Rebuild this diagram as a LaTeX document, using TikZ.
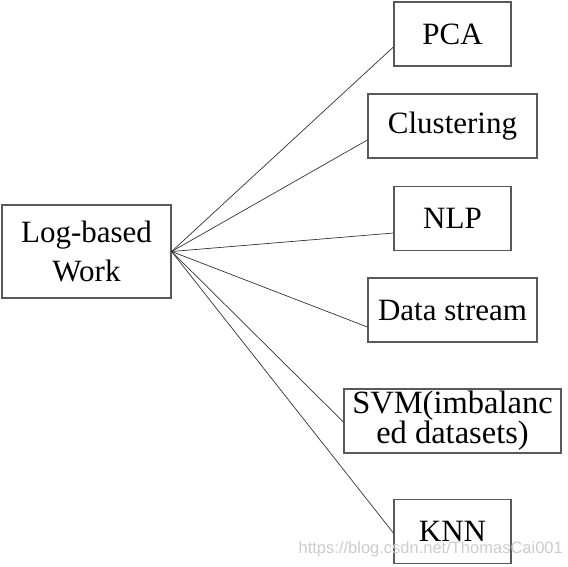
\documentclass[tikz,border=0pt]{standalone}
\usepackage{fontspec}
\setmainfont{Liberation Serif}
\newfontfamily\marksans{Liberation Sans}
\begin{document}
\begin{tikzpicture}[x=1pt,y=-1pt,
  box/.style={draw=black!65,line width=1.2pt,inner sep=0pt,minimum height=64pt,
    align=center,font=\fontsize{31}{39}\selectfont},
  link/.style={black!80,line width=.7pt}]
\useasboundingbox (0,0) rectangle (568,566);
\node[box,minimum width=169pt,minimum height=93pt] (log) at (86.5,251.5) {Log-based\\Work};
\node[box,minimum width=117pt] (pca)  at (452.5,34)    {PCA};
\node[box,minimum width=169pt] (clus) at (452.5,126)   {Clustering};
\node[box,minimum width=117pt] (nlp)  at (452.5,218.5) {NLP};
\node[box,minimum width=169pt] (data) at (452.5,310)   {Data stream};
\node[box,minimum width=217pt,font=\fontsize{32.5}{30}\selectfont]
  (svm) at (452.5,421) {SVM(imbalanc\\ed datasets)};
\node[box,minimum width=117pt] (knn)  at (452.5,531.5) {KNN};
\foreach \n/\d in {pca/13,clus/14,nlp/14.5,data/17,svm/1,knn/1.5}
  \draw[link] (log.east) -- ([yshift=-\d pt]\n.west);
\node[font=\marksans\fontsize{16.5}{18}\selectfont,text=black!20,anchor=base east,inner sep=0pt]
  (mark) at (563,553) {https://blog.csdn.net/ThomasCai001};
\end{tikzpicture}
\end{document}
